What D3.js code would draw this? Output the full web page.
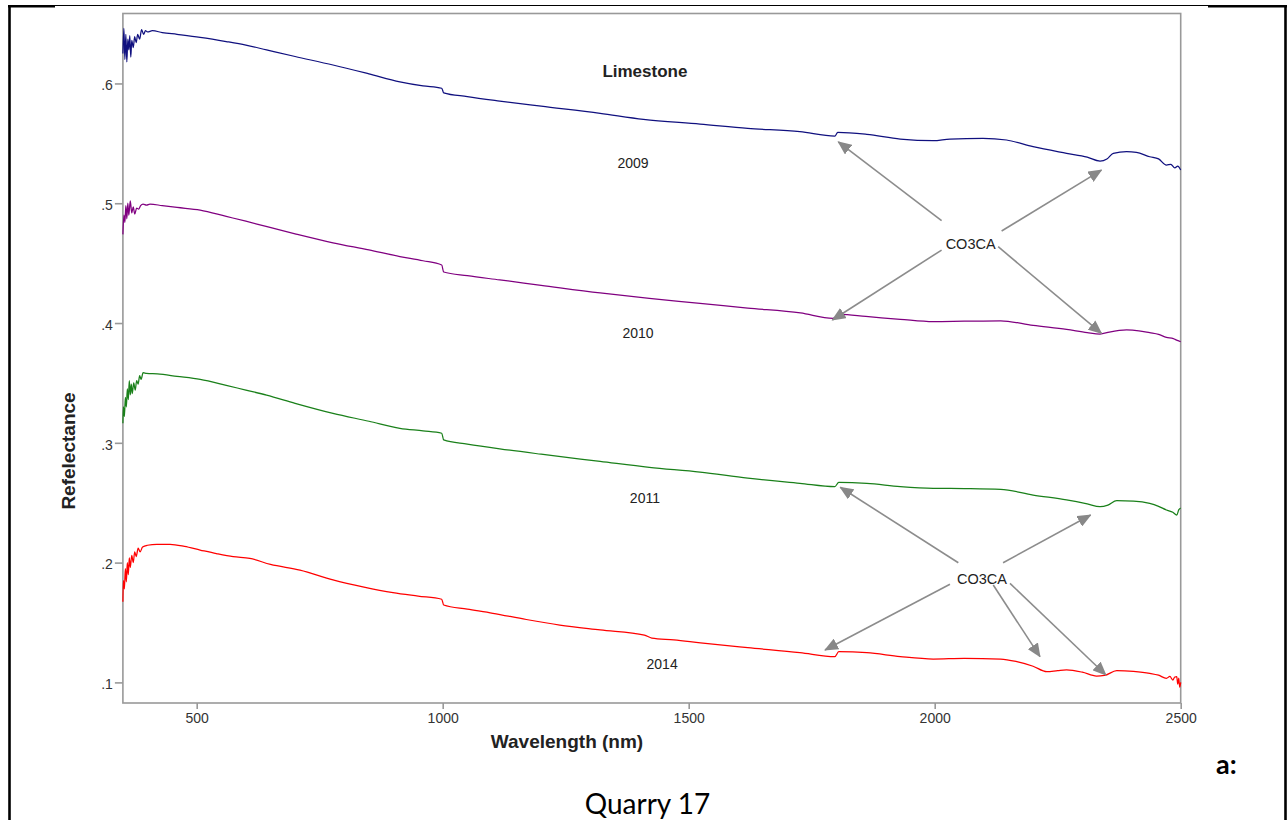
<!DOCTYPE html>
<html>
<head>
<meta charset="utf-8">
<script src="https://cdn.jsdelivr.net/npm/d3@7"></script>
<style>
  body { margin: 0; background: #fff; }
  svg { display: block; }
  .tick text { font-family: "Liberation Sans", Arial, sans-serif; font-size: 14px; fill: #333; }
  .lbl { font-family: "Liberation Sans", Arial, sans-serif; fill: #222; }
</style>
</head>
<body>
<div id="chart"></div>
<script>
// spectra, [wavelength nm, reflectance]
const s2009 = [[350,0.625],[352,0.646],[354,0.620],[356,0.641],[358,0.618],[360,0.637],[362,0.628],[364,0.640],[366,0.622],[368,0.636],[371,0.630],[374,0.639],[377,0.634],[380,0.641],[384,0.637],[388,0.645],[392,0.641],[396,0.644],[400,0.643],[410,0.644],[430,0.6425],[460,0.641],[507,0.6385],[560,0.635],[600,0.632],[642,0.628],[700,0.6225],[777,0.6154],[850,0.608],[913,0.6014],[960,0.598],[998,0.596],[1002,0.5922],[1050,0.589],[1116,0.5853],[1200,0.581],[1320,0.5750],[1408,0.5700],[1523,0.5661],[1620,0.5625],[1726,0.5597],[1797,0.5561],[1803,0.5592],[1862,0.5575],[1930,0.5536],[1997,0.5522],[2031,0.5536],[2098,0.5542],[2146,0.5528],[2200,0.5472],[2268,0.5417],[2310,0.5385],[2336,0.5352],[2350,0.5370],[2363,0.5417],[2390,0.5430],[2410,0.5425],[2437,0.5388],[2455,0.537],[2471,0.5319],[2480,0.5325],[2488,0.5295],[2494,0.5310],[2500,0.5277]];
const s2010 = [[350,0.474],[352,0.490],[354,0.484],[356,0.498],[358,0.487],[360,0.500],[362,0.490],[365,0.502],[368,0.492],[371,0.497],[374,0.491],[378,0.496],[382,0.495],[386,0.498],[391,0.4993],[398,0.4985],[405,0.4993],[430,0.498],[460,0.4965],[507,0.4943],[560,0.489],[600,0.4850],[643,0.4804],[700,0.4745],[777,0.467],[850,0.461],[913,0.4555],[960,0.452],[998,0.4484],[1002,0.4426],[1050,0.4395],[1116,0.436],[1200,0.4315],[1320,0.4251],[1420,0.4205],[1523,0.4165],[1620,0.4125],[1727,0.4084],[1793,0.4039],[1807,0.4072],[1860,0.4055],[1930,0.4031],[1997,0.4011],[2060,0.4015],[2134,0.4019],[2200,0.398],[2268,0.3947],[2310,0.392],[2336,0.3908],[2355,0.3925],[2390,0.3942],[2415,0.3935],[2437,0.3919],[2455,0.3905],[2471,0.3881],[2485,0.387],[2493,0.3855],[2500,0.3844]];
const s2011 = [[350,0.3163],[351,0.330],[353,0.322],[355,0.338],[357,0.330],[359,0.345],[361,0.336],[363,0.352],[365,0.340],[367,0.349],[369,0.341],[372,0.350],[375,0.344],[378,0.352],[381,0.349],[384,0.356],[387,0.353],[391,0.3585],[398,0.358],[420,0.3575],[460,0.3555],[507,0.3530],[560,0.3480],[600,0.344],[642,0.3399],[700,0.333],[777,0.3246],[850,0.3180],[913,0.3121],[960,0.310],[998,0.3080],[1002,0.3024],[1050,0.299],[1116,0.2950],[1200,0.2905],[1320,0.2845],[1420,0.2795],[1523,0.2755],[1620,0.2705],[1726,0.2662],[1797,0.2634],[1805,0.2670],[1862,0.2662],[1930,0.2635],[1997,0.2620],[2060,0.2618],[2134,0.2612],[2200,0.2564],[2268,0.2523],[2310,0.249],[2336,0.2467],[2352,0.248],[2370,0.2517],[2404,0.2514],[2437,0.2495],[2455,0.247],[2471,0.2439],[2484,0.2420],[2492,0.2397],[2496,0.244],[2500,0.2456]];
const s2014 = [[350,0.1674],[351,0.185],[353,0.178],[355,0.195],[357,0.184],[359,0.200],[361,0.190],[363,0.204],[365,0.196],[368,0.206],[371,0.200],[374,0.209],[377,0.205],[381,0.212],[385,0.209],[390,0.213],[400,0.2145],[419,0.2153],[446,0.2152],[475,0.2135],[507,0.2105],[540,0.2075],[574,0.2049],[608,0.2035],[650,0.1985],[710,0.1938],[777,0.1855],[840,0.1795],[899,0.1749],[950,0.172],[998,0.1694],[1002,0.1646],[1050,0.1612],[1102,0.1577],[1170,0.1525],[1238,0.1479],[1320,0.1438],[1410,0.1395],[1425,0.1370],[1470,0.1355],[1524,0.1330],[1620,0.1290],[1726,0.1248],[1797,0.1215],[1805,0.1256],[1862,0.1248],[1930,0.1215],[1997,0.1195],[2060,0.1200],[2134,0.1195],[2167,0.1173],[2200,0.1135],[2228,0.1089],[2250,0.1098],[2268,0.1104],[2300,0.1085],[2329,0.1053],[2345,0.1058],[2370,0.1098],[2404,0.1092],[2437,0.1076],[2455,0.106],[2471,0.1034],[2478,0.1050],[2484,0.1020],[2488,0.1045],[2492,0.1048],[2494,0.0985],[2496,0.1035],[2498,0.0960],[2500,0.1000]];

const seriesNames = ["2009", "2010", "2011", "2014"];
const seriesColors = ["#10107f", "#800080", "#1a801a", "#ff0000"];
const xTicks = [500, 1000, 1500, 2000, 2500];
const yTicks = [0.1, 0.2, 0.3, 0.4, 0.5, 0.6];

// year labels [nm, reflectance]
const yearLabelPos = [[1387, 0.5336], [1397, 0.3917], [1411, 0.2539], [1446, 0.1154]];
// CO3CA annotations: label [nm, refl] and arrows [fromNm, fromR, toNm, toR]
const co3Labels = [[2073, 0.4665], [2096, 0.1869]];
const co3Arrows = [
  [2014, 0.4854, 1804, 0.5513],
  [2136, 0.4768, 2339, 0.5277],
  [2014, 0.4609, 1792, 0.4025],
  [2129, 0.4637, 2339, 0.3914],
  [2048, 0.1999, 1808, 0.2629],
  [2139, 0.1999, 2317, 0.2397],
  [2031, 0.1819, 1777, 0.1270],
  [2119, 0.1813, 2214, 0.1215],
  [2153, 0.1827, 2348, 0.1062]
];

const W = 1288, H = 820;
const plot = { left: 122.9, right: 1180.7, top: 13.5, bottom: 703 };

const x = d3.scaleLinear().domain([350, 2500]).range([plot.left, plot.right]);
const y = d3.scaleLinear().domain([0.0828, 0.6584]).range([plot.bottom, plot.top]);

const svg = d3.select("#chart").append("svg")
  .attr("width", W).attr("height", H);

// page frame
const frame = svg.append("g").attr("stroke", "#000").attr("fill", "none");
frame.append("line").attr("x1", 8).attr("x2", 1208).attr("y1", 5.5).attr("y2", 5.5).attr("stroke-width", 1);
frame.append("line").attr("x1", 8).attr("x2", 55).attr("y1", 6.3).attr("y2", 6.3).attr("stroke-width", 2.4);
frame.append("line").attr("x1", 1208).attr("x2", 1287).attr("y1", 6.3).attr("y2", 6.3).attr("stroke-width", 2.4);
frame.append("line").attr("x1", 9.5).attr("x2", 9.5).attr("y1", 5).attr("y2", H).attr("stroke-width", 2.6);
frame.append("line").attr("x1", 1285.5).attr("x2", 1285.5).attr("y1", 5).attr("y2", H).attr("stroke-width", 2.6);

// axes
const fmt = v => d3.format(".1f")(v).replace(/^0/, "");
const yAxis = svg.append("g").attr("transform", `translate(${plot.left},0)`)
  .call(d3.axisLeft(y).tickValues(yTicks).tickFormat(fmt).tickSize(8).tickPadding(2));
const xAxis = svg.append("g").attr("transform", `translate(0,${plot.bottom})`)
  .call(d3.axisBottom(x).tickValues(xTicks).tickFormat(d3.format("d")).tickSize(6).tickPadding(4));
[xAxis, yAxis].forEach(a => {
  a.select(".domain").remove();
  a.selectAll(".tick line").attr("stroke", "#999").attr("stroke-width", 1.6);
});
yAxis.selectAll(".tick text").attr("dy", "0.45em");

svg.append("rect")
  .attr("x", plot.left).attr("y", plot.top)
  .attr("width", plot.right - plot.left).attr("height", plot.bottom - plot.top)
  .attr("fill", "none").attr("stroke", "#999").attr("stroke-width", 1.6);

// spectra
const line = d3.line().x(d => x(d[0])).y(d => y(d[1])).curve(d3.curveMonotoneX);
svg.append("g").selectAll("path")
  .data([s2009, s2010, s2011, s2014])
  .join("path")
  .attr("d", line)
  .attr("fill", "none")
  .attr("stroke", (d, i) => seriesColors[i])
  .attr("stroke-width", 1.25)
  .attr("stroke-linejoin", "round");

// labels
svg.append("text").attr("class", "lbl")
  .attr("x", x(1411)).attr("y", y(0.6104)).attr("dy", "0.36em")
  .attr("text-anchor", "middle").attr("font-size", 17).attr("font-weight", "bold")
  .text("Limestone");

svg.append("g").selectAll("text")
  .data(yearLabelPos)
  .join("text").attr("class", "lbl")
  .attr("x", d => x(d[0])).attr("y", d => y(d[1])).attr("dy", "0.36em")
  .attr("text-anchor", "middle").attr("font-size", 14)
  .text((d, i) => seriesNames[i]);

// arrows
svg.append("defs").append("marker")
  .attr("id", "head").attr("markerUnits", "userSpaceOnUse")
  .attr("viewBox", "0 0 14 12").attr("refX", 13).attr("refY", 6)
  .attr("markerWidth", 14).attr("markerHeight", 12).attr("orient", "auto")
  .append("path").attr("d", "M0,0L14,6L0,12Z").attr("fill", "#888");

svg.append("g").selectAll("line")
  .data(co3Arrows)
  .join("line")
  .attr("x1", d => x(d[0])).attr("y1", d => y(d[1]))
  .attr("x2", d => x(d[2])).attr("y2", d => y(d[3]))
  .attr("stroke", "#8c8c8c").attr("stroke-width", 1.6)
  .attr("marker-end", "url(#head)");

svg.append("g").selectAll("text")
  .data(co3Labels)
  .join("text").attr("class", "lbl")
  .attr("x", d => x(d[0])).attr("y", d => y(d[1])).attr("dy", "0.36em")
  .attr("text-anchor", "middle").attr("font-size", 14.5)
  .text("CO3CA");

// axis titles
svg.append("text").attr("class", "lbl")
  .attr("x", 567).attr("y", 748)
  .attr("text-anchor", "middle").attr("font-size", 19).attr("font-weight", "bold")
  .text("Wavelength (nm)");

svg.append("text").attr("class", "lbl")
  .attr("transform", "translate(75,451) rotate(-90)")
  .attr("text-anchor", "middle").attr("font-size", 19).attr("font-weight", "bold")
  .text("Refelectance");

// caption
svg.append("text")
  .attr("x", 1216).attr("y", 774)
  .attr("font-family", "Lato, 'Open Sans', sans-serif").attr("font-size", 27).attr("font-weight", "bold")
  .text("a:");
svg.append("text")
  .attr("x", 647.5).attr("y", 814)
  .attr("text-anchor", "middle")
  .attr("font-family", "Lato, 'Open Sans', sans-serif").attr("font-size", 28)
  .text("Quarry 17");
</script>
</body>
</html>
